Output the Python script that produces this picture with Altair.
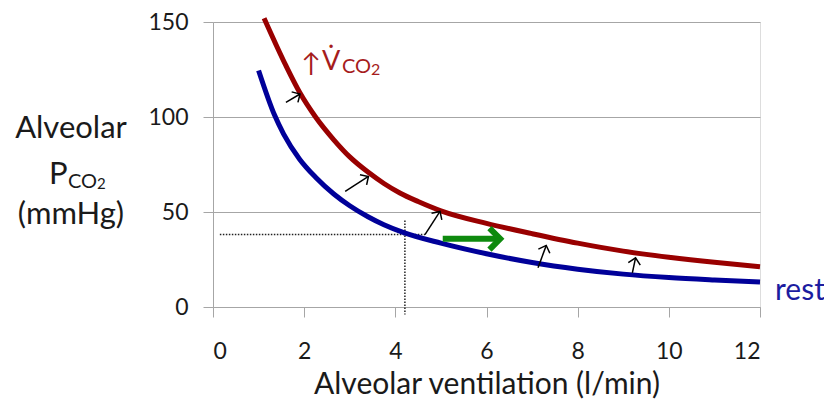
import math
import altair as alt
import pandas as pd

# ---- data ----
x_ticks = [0, 2, 4, 6, 8, 10, 12]
y_ticks = [0, 50, 100, 150]

rest_x = [1.0, 1.35, 1.55, 1.9, 2.25, 2.65, 3.0, 3.4, 3.75, 4.2, 5.0, 6.0, 7.0, 8.0, 9.0, 10.0, 11.0, 12.0]
rest_y = [124.5, 101, 91, 77.8, 68.3, 59.5, 53.3, 47.5, 43.3, 39.0, 33.6, 28.0, 23.4, 19.9, 17.3, 15.5, 14.2, 13.1]

high_x = [1.12, 1.6, 1.9, 2.25, 2.65, 3.0, 3.4, 3.75, 4.1, 4.5, 5.0, 6.0, 7.0, 8.0, 9.0, 10.0, 11.0, 12.0]
high_y = [152, 127, 113, 100, 88, 79, 71.0, 65.0, 60.0, 55.5, 50.6, 44, 38.6, 33.6, 29.4, 26.2, 23.5, 21.2]

shift_x0 = [1.60, 2.90, 4.65, 7.13, 9.20]
shift_y0 = [107.7, 60.8, 38.1, 20.6, 18.0]
shift_x1 = [1.91, 3.41, 4.98, 7.31, 9.27]
shift_y1 = [112.1, 68.7, 50.3, 32.4, 25.9]

ref_va = 4.21
ref_pco2 = 38.2
ref_h_from = 0.15
ref_h_to = 4.65
ref_v_from = 45.5
ref_v_to = -4.0

green_x0 = 5.04
green_x1 = 6.30
green_y = 35.9

# ---- layout ----
W, H = 547, 285
kx = W / 12.0
ky = H / 150.0

FONT = "Lato"
TXT = "#1a1a1a"
GRAY = "#a6a6a6"
RED = "#990000"
BLUE = "#000099"
GREEN = "#0e8a0e"
TRED = "#a61c1c"
TBLUE = "#1c1ca0"

xs = alt.Scale(domain=[0, 12], nice=False, zero=False)
ys = alt.Scale(domain=[0, 150], nice=False, zero=False)
xaxis = alt.Axis(values=x_ticks, grid=False, tickSize=10, tickColor=GRAY, domainColor=GRAY,
                 labelFontSize=23, labelPadding=23, labelColor=TXT, labelFont=FONT,
                 title="Alveolar ventilation (l/min)", titleFontSize=30, titleFont=FONT,
                 titleFontWeight="normal", titleColor=TXT, titlePadding=6)
yaxis = alt.Axis(values=y_ticks, grid=True, gridColor=GRAY, tickSize=10, tickColor=GRAY,
                 domainColor=GRAY, labelFontSize=23, labelPadding=15, labelColor=TXT,
                 labelFont=FONT, title="")


def X(f):
    return alt.X(f, type="quantitative", scale=xs, axis=xaxis)


def Y(f):
    return alt.Y(f, type="quantitative", scale=ys, axis=yaxis)


rest_df = pd.DataFrame({"x": rest_x, "y": rest_y})
high_df = pd.DataFrame({"x": high_x, "y": high_y})

rest_line = alt.Chart(rest_df).mark_line(color=BLUE, strokeWidth=5, interpolate="monotone",
                                          strokeCap="butt").encode(x=X("x"), y=Y("y"))
high_line = alt.Chart(high_df).mark_line(color=RED, strokeWidth=5, interpolate="monotone",
                                          strokeCap="butt").encode(x=X("x"), y=Y("y"))

# reference dotted lines
dot_df = pd.DataFrame({
    "x": [ref_h_from, ref_va], "x2": [ref_h_to, ref_va],
    "y": [ref_pco2, ref_v_from], "y2": [ref_pco2, ref_v_to],
})
dots = alt.Chart(dot_df).mark_rule(color="#222222", strokeWidth=1.5, strokeDash=[1.5, 1.5]).encode(
    x=X("x"), x2="x2", y=Y("y"), y2="y2")

# small black shift arrows
ang = []
for a, b, c, d in zip(shift_x0, shift_y0, shift_x1, shift_y1):
    ang.append(math.degrees(math.atan2(-(d - b) * ky, (c - a) * kx)) % 360)
arr_df = pd.DataFrame({"x": shift_x0, "y": shift_y0, "x2": shift_x1, "y2": shift_y1, "ang": ang})
shafts = alt.Chart(arr_df).mark_rule(color="black", strokeWidth=1.5).encode(
    x=X("x"), x2="x2", y=Y("y"), y2="y2")
heads = alt.Chart(arr_df).mark_point(shape="M-1,-1L0,0L-1,1", size=150, color="black",
                                      strokeWidth=1.5, filled=False, opacity=1).encode(
    x=X("x2"), y=Y("y2"), angle=alt.Angle("ang:Q", scale=None))

# green arrow
g_df = pd.DataFrame({"x": [green_x0], "x2": [green_x1 - 0.05], "y": [green_y]})
g_shaft = alt.Chart(g_df).mark_rule(color=GREEN, strokeWidth=6).encode(
    x=X("x"), x2="x2", y=Y("y"))
g_head_df = pd.DataFrame({"x": [green_x1], "y": [green_y]})
g_head = alt.Chart(g_head_df).mark_point(shape="M-1,-1L0,0L-1,1", size=460, color=GREEN,
                                          strokeWidth=6, filled=False, opacity=1,
                                          strokeJoin="miter").encode(x=X("x"), y=Y("y"))


def label(text, px, py, size, color=TXT, align="left"):
    return alt.Chart(pd.DataFrame({"t": [text]})).mark_text(
        font=FONT, fontSize=size, color=color, align=align, baseline="alphabetic").encode(
        text="t:N", x=alt.value(px), y=alt.value(py))


labels = [
    label("Alveolar", -142, 116, 31, align="center"),
    label("P", -164, 162, 31),
    label("CO", -145, 166, 20),
    label("2", -116, 167, 15),
    label("(mmHg)", -142, 202, 31, align="center"),
    label("↑", 98, 50, 26, TRED, "center"),
    label("V̇", 109, 48, 27, TRED),
    label("CO", 129, 51, 20, TRED),
    label("2", 158, 53, 16, TRED),
    label("rest", 562, 278, 30, TBLUE),
]

chart = alt.layer(dots, rest_line, high_line, shafts, heads, g_shaft, g_head, *labels).properties(
    width=W, height=H, autosize=alt.AutoSizeParams(type="none"),
    padding={"left": 205, "top": 14, "right": 64, "bottom": 95},
).configure_view(strokeWidth=0).configure(font=FONT)

chart.save("out.html", embed_options={"renderer": "svg", "actions": False})
